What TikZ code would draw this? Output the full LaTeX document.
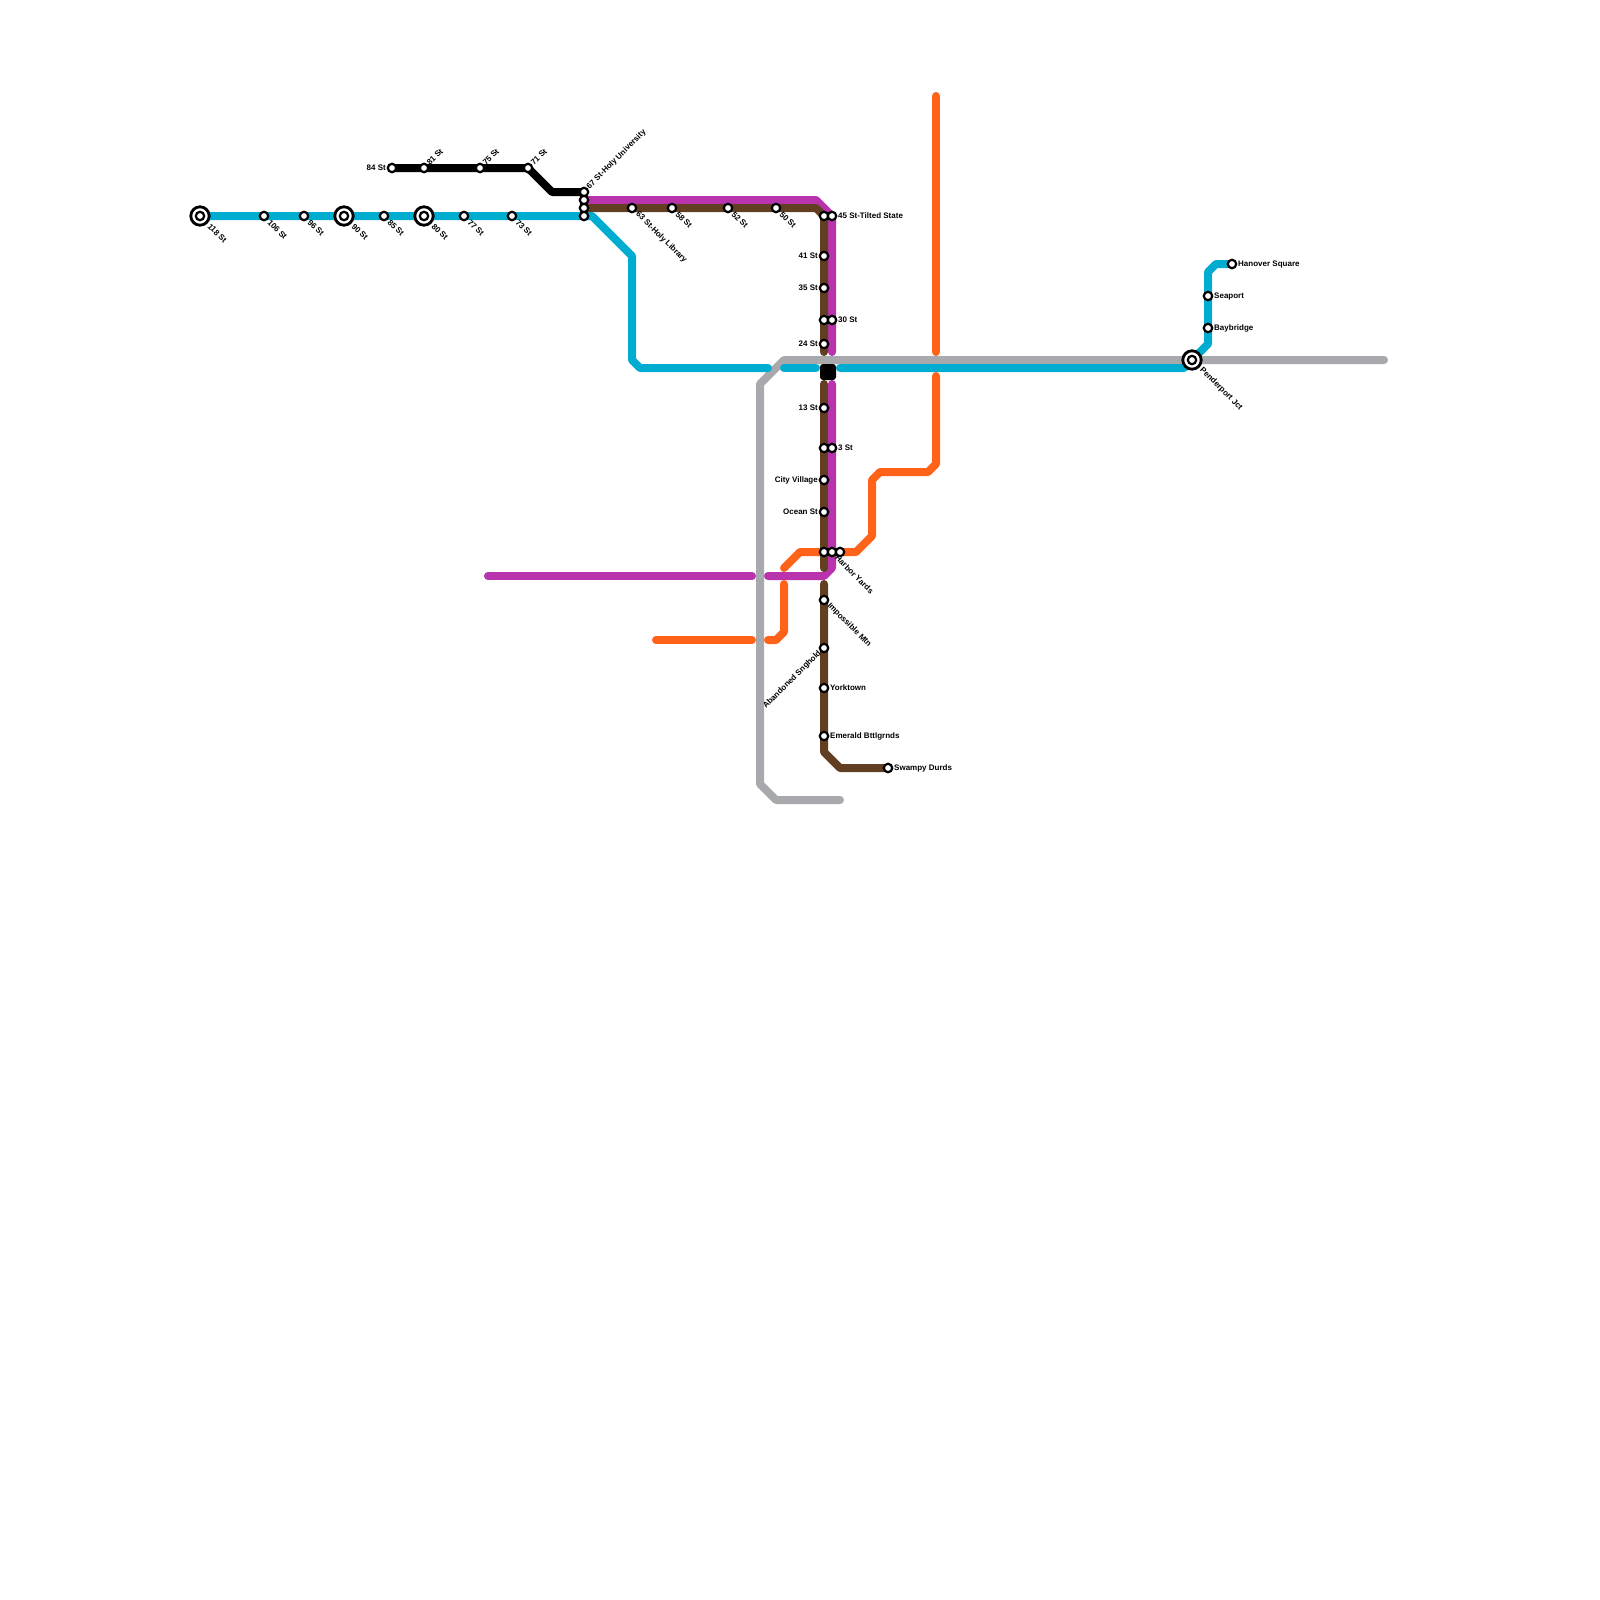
\documentclass[tikz,border=0pt]{standalone}
\usepackage{fontspec}
\setmainfont{Liberation Sans}
\usepackage{xcolor}
\usetikzlibrary{backgrounds}
\definecolor{lineblue}{HTML}{00ADD0}
\definecolor{linepurple}{HTML}{B933AD}
\definecolor{linebrown}{HTML}{623E23}
\definecolor{lineorange}{HTML}{FF6319}
\definecolor{linegray}{HTML}{A7A9AC}
\tikzset{
  route/.style={line width=8pt,line cap=round,line join=round},
  stopdot/.style={circle,draw=black,fill=white,line width=2.2pt,inner sep=0pt,minimum size=8.4pt},
  hubdot/.style={circle,draw=black,fill=white,line width=2.8pt,inner sep=0pt,minimum size=18.4pt},
  stoplbl/.style={inner sep=0pt,font=\fontsize{8}{9}\selectfont\bfseries},
}

\begin{document}
\begin{tikzpicture}[x=1pt,y=-1pt]
    \useasboundingbox (0,0) rectangle (1600,1600);
    % west branch
    \node[hubdot] (h118) at (200,216) {};
    \node[stopdot] (s118) at (200,216) {};
    \node[stopdot] (s106) at (264,216) {};
    \node[stopdot] (s96) at (304,216) {};
    \node[hubdot] (h90) at (344,216) {};
    \node[stopdot] (s90) at (344,216) {};
    \node[stopdot] (s85) at (384,216) {};
    \node[hubdot] (h80) at (424,216) {};
    \node[stopdot] (s80) at (424,216) {};
    \node[stopdot] (s77) at (464,216) {};
    \node[stopdot] (s73) at (512,216) {};
    \node[stopdot] (s84) at (392,168) {};
    \node[stopdot] (s81) at (424,168) {};
    \node[stopdot] (s75) at (480,168) {};
    \node[stopdot] (s71) at (528,168) {};
    % university junction
    \node[stopdot] (s67a) at (584,192) {};
    \node[stopdot] (s67b) at (584,200) {};
    \node[stopdot] (s67c) at (584,208) {};
    \node[stopdot] (s67d) at (584,216) {};
    \node[stopdot] (s63) at (632,208) {};
    \node[stopdot] (s58) at (672,208) {};
    \node[stopdot] (s52) at (728,208) {};
    \node[stopdot] (s50) at (776,208) {};
    % north-south trunk
    \node[stopdot] (s45a) at (824,216) {};
    \node[stopdot] (s45b) at (832,216) {};
    \node[stopdot] (s41) at (824,256) {};
    \node[stopdot] (s35) at (824,288) {};
    \node[stopdot] (s30a) at (824,320) {};
    \node[stopdot] (s30b) at (832,320) {};
    \node[stopdot] (s24) at (824,344) {};
    \node[fill=black,rounded corners=3pt,inner sep=0pt,minimum size=16pt] (square) at (828,372) {};
    \node[stopdot] (s13) at (824,408) {};
    \node[stopdot] (s3a) at (824,448) {};
    \node[stopdot] (s3b) at (832,448) {};
    \node[stopdot] (scity) at (824,480) {};
    \node[stopdot] (socean) at (824,512) {};
    \node[stopdot] (sharbora) at (824,552) {};
    \node[stopdot] (sharborb) at (832,552) {};
    \node[stopdot] (sharborc) at (840,552) {};
    \node[stopdot] (smtn) at (824,600) {};
    \node[stopdot] (ssng) at (824,648) {};
    \node[stopdot] (syork) at (824,688) {};
    \node[stopdot] (semer) at (824,736) {};
    \node[stopdot] (sswamp) at (888,768) {};
    % east branch
    \node[hubdot] (hpend) at (1192,360) {};
    \node[stopdot] (spend) at (1192,360) {};
    \node[stopdot] (sbay) at (1208,328) {};
    \node[stopdot] (ssea) at (1208,296) {};
    \node[stopdot] (shan) at (1232,264) {};

    \begin{scope}[on background layer]
      % gray
      \draw[route,linegray] (1384,360) -- (hpend.center) -- (784,360) -- (760,384) -- (760,784) -- (776,800) -- (840,800);
      % black
      \draw[route,black] (s84.center) -- (s71.center) -- (552,192) -- (s67a.center);
      % blue
      \draw[route,lineblue] (h118.center) -- (s67d.center) -- (592,216) -- (632,256) -- (632,360) -- (640,368) -- (768,368);
      \draw[route,lineblue] (784,368) -- (816,368);
      \draw[route,lineblue] (840,368) -- (1184,368) -- (hpend.center) -- (1208,344) -- (ssea.center) -- (1208,272) -- (1216,264) -- (shan.center);
      % purple
      \draw[route,linepurple] (s67b.center) -- (816,200) -- (s45b.center) -- (832,352);
      \draw[route,linepurple] (832,384) -- (sharborb.center) -- (832,568) -- (824,576) -- (768,576);
      \draw[route,linepurple] (488,576) -- (752,576);
      % brown
      \draw[route,linebrown] (s67c.center) -- (816,208) -- (s45a.center) -- (824,352);
      \draw[route,linebrown] (824,384) -- (824,568);
      \draw[route,linebrown] (824,584) -- (824,752) -- (840,768) -- (sswamp.center);
      % orange
      \draw[route,lineorange] (936,96) -- (936,352);
      \draw[route,lineorange] (936,376) -- (936,464) -- (928,472) -- (880,472) -- (872,480) -- (872,536) -- (856,552) -- (800,552) -- (784,568);
      \draw[route,lineorange] (784,584) -- (784,632) -- (776,640) -- (768,640);
      \draw[route,lineorange] (656,640) -- (752,640);
    \end{scope}

    % labels
    \node[stoplbl,rotate=-45,anchor=west] (t118) at (209,225) {118 St};
    \node[stoplbl,rotate=-45,anchor=west] (t106) at (269,221) {106 St};
    \node[stoplbl,rotate=-45,anchor=west] (t96) at (309,221) {96 St};
    \node[stoplbl,rotate=-45,anchor=west] (t90) at (353,225) {90 St};
    \node[stoplbl,rotate=-45,anchor=west] (t85) at (389,221) {85 St};
    \node[stoplbl,rotate=-45,anchor=west] (t80) at (433,225) {80 St};
    \node[stoplbl,rotate=-45,anchor=west] (t77) at (469,221) {77 St};
    \node[stoplbl,rotate=-45,anchor=west] (t73) at (517,221) {73 St};
    \node[stoplbl,anchor=east] (t84) at (386,168) {84 St};
    \node[stoplbl,rotate=45,anchor=west] (t81) at (428,164) {81 St};
    \node[stoplbl,rotate=45,anchor=west] (t75) at (484,164) {75 St};
    \node[stoplbl,rotate=45,anchor=west] (t71) at (532,164) {71 St};
    \node[stoplbl,rotate=45,anchor=west] (t67) at (588,188) {67 St-Holy University};
    \node[stoplbl,rotate=-45,anchor=west] (t63) at (637,213) {63 St-Holy Library};
    \node[stoplbl,rotate=-45,anchor=west] (t58) at (677,213) {58 St};
    \node[stoplbl,rotate=-45,anchor=west] (t52) at (733,213) {52 St};
    \node[stoplbl,rotate=-45,anchor=west] (t50) at (781,213) {50 St};
    \node[stoplbl,anchor=west] (t45) at (838,216) {45 St-Tilted State};
    \node[stoplbl,anchor=east] (t41) at (818,256) {41 St};
    \node[stoplbl,anchor=east] (t35) at (818,288) {35 St};
    \node[stoplbl,anchor=west] (t30) at (838,320) {30 St};
    \node[stoplbl,anchor=east] (t24) at (818,344) {24 St};
    \node[stoplbl,anchor=east] (t13) at (818,408) {13 St};
    \node[stoplbl,anchor=west] (t3) at (838,448) {3 St};
    \node[stoplbl,anchor=east] (tcity) at (818,480) {City Village};
    \node[stoplbl,anchor=east] (tocean) at (818,512) {Ocean St};
    \node[stoplbl,rotate=-45,anchor=west] (tharbor) at (836.5,556.5) {Harbor Yards};
    \node[stoplbl,rotate=-45,anchor=west] (tmtn) at (828.5,604.5) {Impossible Mtn};
    \node[stoplbl,rotate=45,anchor=east] (tsng) at (820,652) {Abandoned Snghold};
    \node[stoplbl,anchor=west] (tyork) at (830,688) {Yorktown};
    \node[stoplbl,anchor=west] (temer) at (830,736) {Emerald Bttlgrnds};
    \node[stoplbl,anchor=west] (tswamp) at (894,768) {Swampy Durds};
    \node[stoplbl,rotate=-45,anchor=west] (tpend) at (1201,369) {Penderport Jct};
    \node[stoplbl,anchor=west] (tbay) at (1214,328) {Baybridge};
    \node[stoplbl,anchor=west] (tsea) at (1214,296.5) {Seaport};
    \node[stoplbl,anchor=west] (than) at (1238,264.5) {Hanover Square};
\end{tikzpicture}
\end{document}
